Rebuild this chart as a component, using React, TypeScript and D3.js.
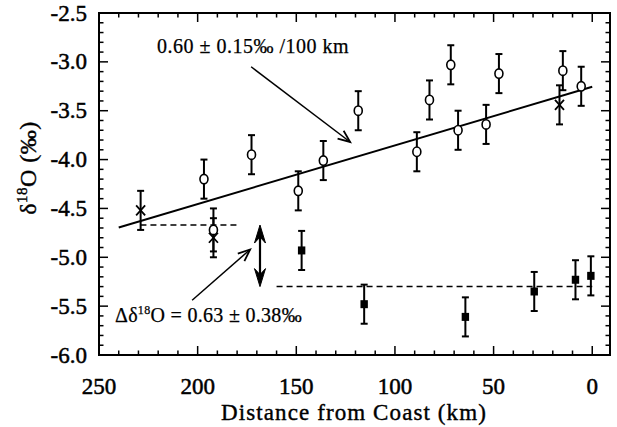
import React from "react";
import * as d3 from "d3";

// ---- data ----
const circleDist = [196.8, 192.0, 172.7, 149.0, 136.3, 118.6, 88.9, 82.5, 71.7, 68.0, 53.8, 47.3, 14.9, 5.6];
const circleVal = [-4.2, -4.72, -3.95, -4.32, -4.01, -3.5, -3.92, -3.39, -3.03, -3.7, -3.64, -3.12, -3.09, -3.25];
const circleErr = [0.2, 0.22, 0.2, 0.2, 0.2, 0.2, 0.2, 0.2, 0.2, 0.2, 0.2, 0.2, 0.2, 0.2];

const crossDist = [228.9, 192.0, 16.6];
const crossVal = [-4.52, -4.8, -3.44];
const crossErr = [0.2, 0.2, 0.2];

const squareDist = [147.3, 115.6, 64.3, 29.4, 8.5, 0.7];
const squareVal = [-4.93, -5.48, -5.61, -5.35, -5.23, -5.19];
const squareErr = [0.2, 0.2, 0.2, 0.2, 0.2, 0.2];

const fitDist = [240, 0];
const fitVal = [-4.695, -3.255];

const dashHighDist = [229, 180];
const dashHighVal = -4.67;
const dashLowDist = [160, 0];
const dashLowVal = -5.3;

const deltaArrowDist = 168.4;
const deltaArrowVals = [-4.67, -5.3];

const xTicks = [250, 200, 150, 100, 50, 0];
const yTicks = [-2.5, -3.0, -3.5, -4.0, -4.5, -5.0, -5.5, -6.0];

const slopeLabel = "0.60 ± 0.15‰ /100 km";
const slopeLabelPos = [220.6, -2.91];
const slopeArrow = [[172.9, -3.05], [122.7, -3.82]];
const deltaLabelPos = [241.9, -5.66];
const deltaArrow = [[202.8, -5.44], [173.4, -4.92]];

const xTitle = "Distance from Coast (km)";

const W = 617;
const H = 427;
const FONT = "'Liberation Serif', 'Times New Roman', serif";

export default function App() {
  const left = 99, right = 610, top = 13, bottom = 355;
  const x = d3.scaleLinear().domain([250, -9]).range([left, right]);
  const y = d3.scaleLinear().domain([-6, -2.5]).range([bottom, top]);

  const xMinor = d3.range(250, -9, -10);
  const yMinor = d3.range(-6, -2.49, 0.1);
  const line = d3.line<number>().x((d, i) => x(fitDist[i])).y((d, i) => y(fitVal[i]));

  const errBar = (xd: number, v: number, e: number, key: string) => {
    const cx = x(xd);
    return (
      <g key={key} stroke="#000" strokeWidth={2}>
        <line x1={cx} x2={cx} y1={y(v - e)} y2={y(v + e)} />
        <line x1={cx - 3.5} x2={cx + 3.5} y1={y(v - e)} y2={y(v - e)} />
        <line x1={cx - 3.5} x2={cx + 3.5} y1={y(v + e)} y2={y(v + e)} />
      </g>
    );
  };

  const arrowHeadV = (x1: number, y1: number, x2: number, y2: number, len: number, half: number) => {
    const ang = Math.atan2(y2 - y1, x2 - x1);
    const a1 = ang + Math.PI - Math.atan2(half, len);
    const a2 = ang + Math.PI + Math.atan2(half, len);
    const L = Math.hypot(len, half);
    return `M${x2 + L * Math.cos(a1)},${y2 + L * Math.sin(a1)}L${x2},${y2}L${x2 + L * Math.cos(a2)},${y2 + L * Math.sin(a2)}`;
  };

  const harpoon = (tx: number, ty: number, dir: number) => {
    const len = 18, half = 5.5, notch = 12;
    return `M${tx},${ty}L${tx - half},${ty - dir * len}L${tx},${ty - dir * notch}L${tx + half},${ty - dir * len}Z`;
  };

  const sa = slopeArrow.map(([d, v]) => [x(d), y(v)]);
  const da = deltaArrow.map(([d, v]) => [x(d), y(v)]);
  const ax = x(deltaArrowDist);
  const ay1 = y(deltaArrowVals[0]);
  const ay2 = y(deltaArrowVals[1]);

  return (
    <svg width={W} height={H} style={{ position: "absolute", left: 0, top: 0, background: "#fff" }} fontFamily={FONT}>
      <rect x={0} y={0} width={W} height={H} fill="#fff" />
      {/* ticks */}
      <g stroke="#000" strokeWidth={1.5}>
        {xMinor.map((t) => {
          const major = t % 50 === 0;
          const l = major ? 9 : 4.5;
          return (
            <g key={"xt" + t}>
              <line x1={x(t)} x2={x(t)} y1={bottom} y2={bottom - l} />
              <line x1={x(t)} x2={x(t)} y1={top} y2={top + l} />
            </g>
          );
        })}
        {yMinor.map((t, i) => {
          const major = i % 5 === 0;
          const l = major ? 9 : 4.5;
          return (
            <g key={"yt" + i}>
              <line x1={left} x2={left + l} y1={y(t)} y2={y(t)} />
              <line x1={right} x2={right - l} y1={y(t)} y2={y(t)} />
            </g>
          );
        })}
      </g>
      <rect x={left} y={top} width={right - left} height={bottom - top} fill="none" stroke="#000" strokeWidth={2} />

      {/* tick labels */}
      <g fontSize={23} fill="#000" stroke="#000" strokeWidth={0.5}>
        {xTicks.map((t) => (
          <text key={"xl" + t} x={x(t)} y={394} textAnchor="middle">{t}</text>
        ))}
        {yTicks.map((t) => (
          <text key={"yl" + t} x={87} y={y(t) + 7.5} textAnchor="end">{t.toFixed(1)}</text>
        ))}
      </g>

      {/* axis titles */}
      <text x={354} y={420} fontSize={23} letterSpacing={1.1} textAnchor="middle" stroke="#000" strokeWidth={0.4}>{xTitle}</text>
      <text transform={`translate(36,168) rotate(-90)`} fontSize={24} textAnchor="middle" stroke="#000" strokeWidth={0.4} letterSpacing={0.5}>
        δ<tspan fontSize={15} dy={-9}>18</tspan><tspan dy={9}>O (‰)</tspan>
      </text>

      {/* fit line */}
      <path d={line(fitVal) || ""} fill="none" stroke="#000" strokeWidth={2} />

      {/* dashed lines */}
      <line x1={x(dashHighDist[0])} x2={x(dashHighDist[1])} y1={y(dashHighVal)} y2={y(dashHighVal)} stroke="#000" strokeWidth={1.5} strokeDasharray="6,4" />
      <line x1={x(dashLowDist[0])} x2={x(dashLowDist[1])} y1={y(dashLowVal)} y2={y(dashLowVal)} stroke="#000" strokeWidth={1.5} strokeDasharray="6,4" />

      {/* error bars */}
      {circleDist.map((d, i) => errBar(d, circleVal[i], circleErr[i], "ce" + i))}
      {crossDist.map((d, i) => errBar(d, crossVal[i], crossErr[i], "xe" + i))}
      {squareDist.map((d, i) => errBar(d, squareVal[i], squareErr[i], "se" + i))}

      {/* markers */}
      {circleDist.map((d, i) => (
        <ellipse key={"c" + i} cx={x(d)} cy={y(circleVal[i])} rx={4} ry={4.7} fill="#fff" stroke="#000" strokeWidth={1.6} />
      ))}
      {crossDist.map((d, i) => {
        const cx = x(d), cy = y(crossVal[i]);
        return (
          <path key={"x" + i} d={`M${cx - 4.5},${cy - 5}L${cx + 4.5},${cy + 5}M${cx + 4.5},${cy - 5}L${cx - 4.5},${cy + 5}`} stroke="#000" strokeWidth={1.8} />
        );
      })}
      {squareDist.map((d, i) => (
        <rect key={"s" + i} x={x(d) - 3.7} y={y(squareVal[i]) - 4} width={7.4} height={8} fill="#000" />
      ))}

      {/* slope annotation */}
      <text x={x(slopeLabelPos[0])} y={y(slopeLabelPos[1])} fontSize={20} letterSpacing={0.5} stroke="#000" strokeWidth={0.25}>{slopeLabel}</text>
      <line x1={sa[0][0]} y1={sa[0][1]} x2={sa[1][0]} y2={sa[1][1]} stroke="#000" strokeWidth={1.5} />
      <path d={arrowHeadV(sa[0][0], sa[0][1], sa[1][0], sa[1][1], 12, 5)} fill="none" stroke="#000" strokeWidth={1.8} />

      {/* delta annotation */}
      <text x={x(deltaLabelPos[0])} y={y(deltaLabelPos[1])} fontSize={20} letterSpacing={0.3} stroke="#000" strokeWidth={0.25}>
        Δδ<tspan fontSize={12} dy={-8}>18</tspan><tspan dy={8}>O = 0.63 ± 0.38‰</tspan>
      </text>
      <line x1={da[0][0]} y1={da[0][1]} x2={da[1][0]} y2={da[1][1]} stroke="#000" strokeWidth={1.5} />
      <path d={arrowHeadV(da[0][0], da[0][1], da[1][0], da[1][1], 12, 5)} fill="none" stroke="#000" strokeWidth={1.8} />

      {/* double arrow */}
      <line x1={ax} x2={ax} y1={ay1 + 8} y2={ay2 - 8} stroke="#000" strokeWidth={2.2} />
      <path d={harpoon(ax, ay1, -1)} fill="#000" stroke="#000" strokeWidth={1} />
      <path d={harpoon(ax, ay2, 1)} fill="#000" stroke="#000" strokeWidth={1} />
    </svg>
  );
}
